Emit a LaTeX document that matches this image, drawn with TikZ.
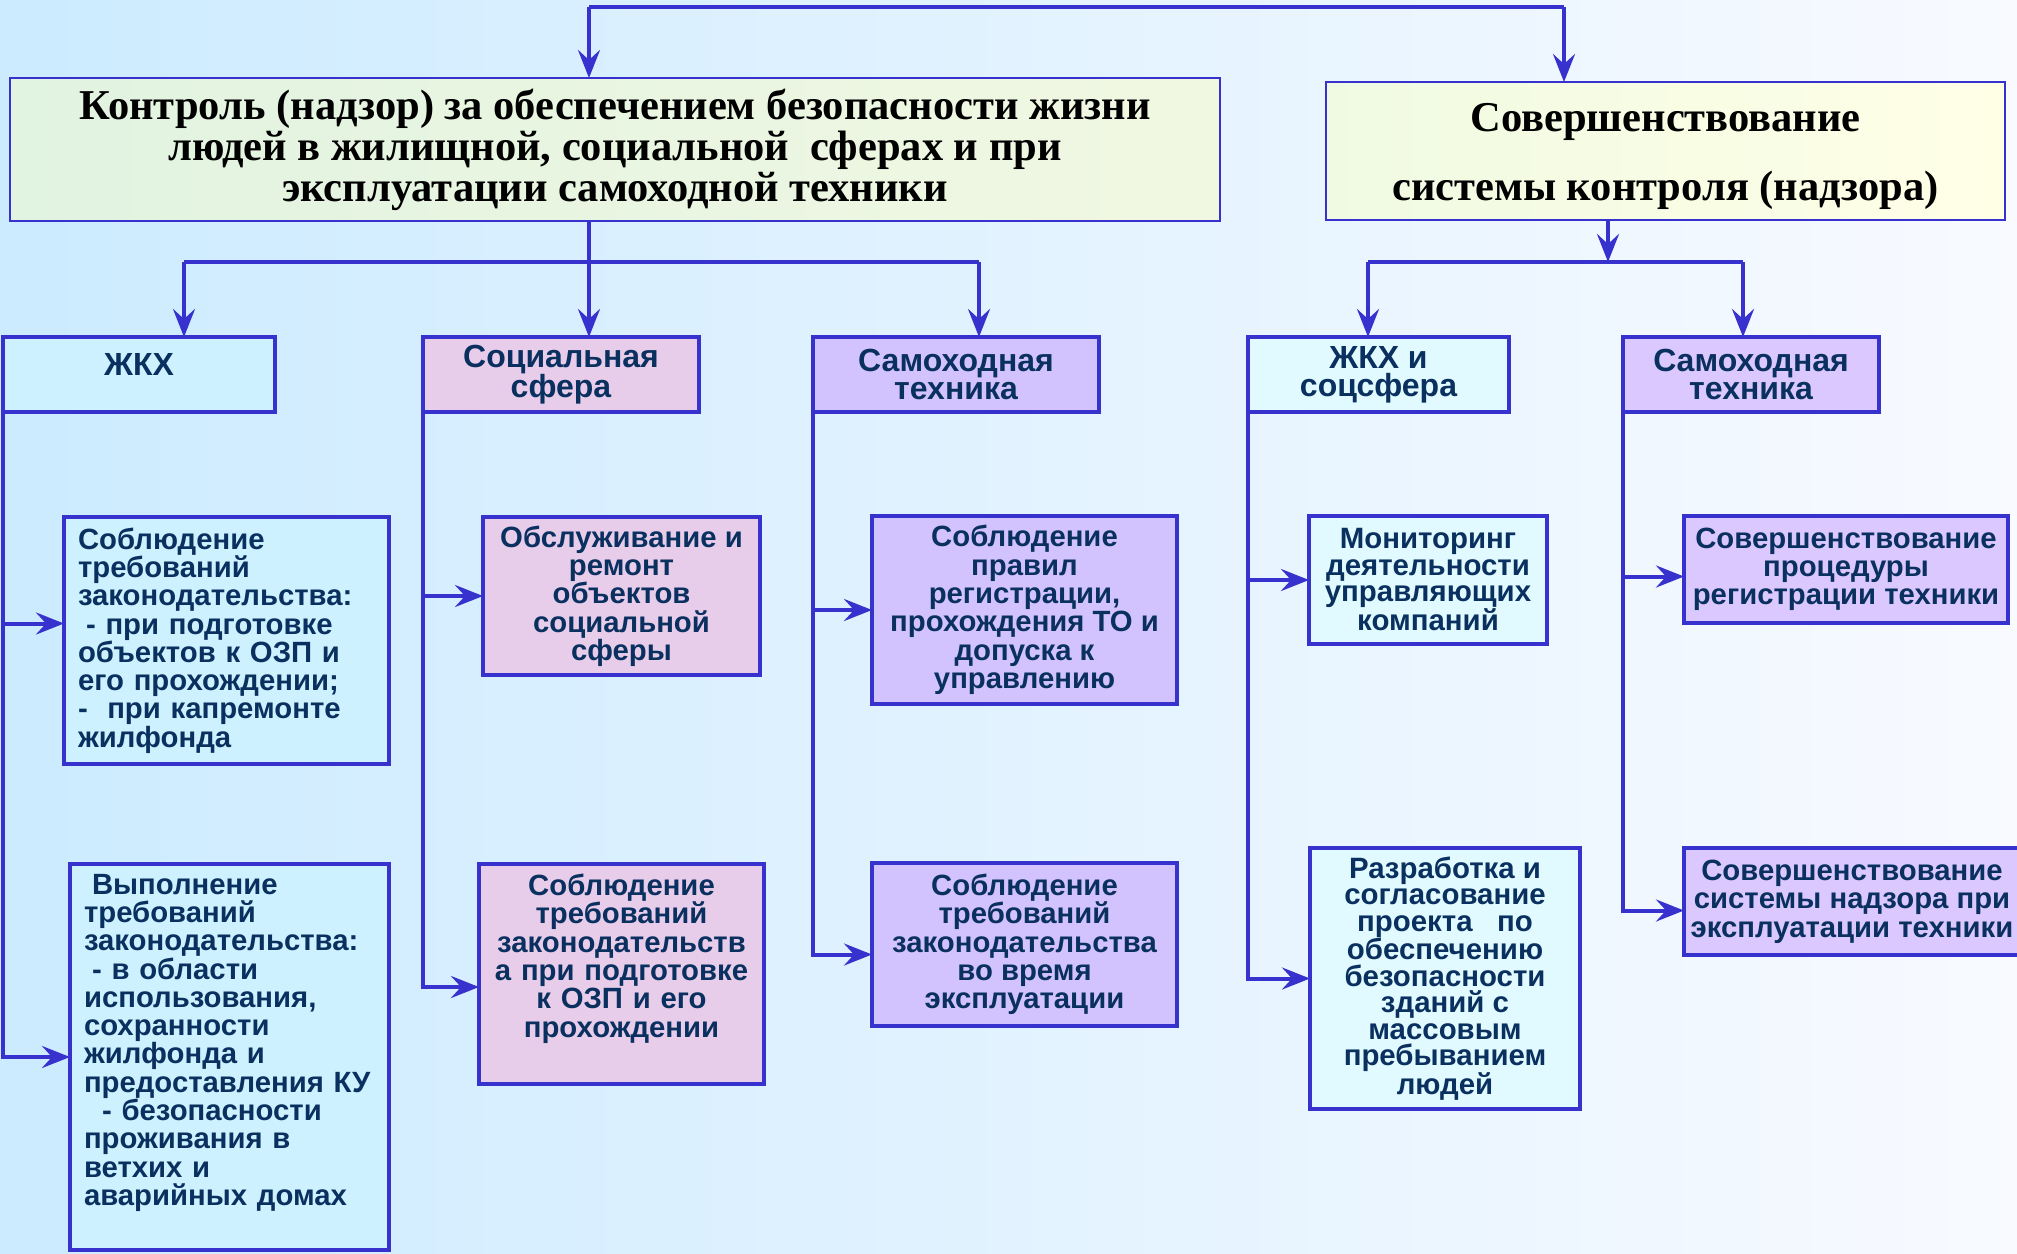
\documentclass[tikz,border=0pt]{standalone}
\usepackage{fontspec}
\newfontfamily\sansfnt{Liberation Sans}
\newfontfamily\seriffnt{Liberation Serif}
\usetikzlibrary{arrows.meta}

\definecolor{linec}{RGB}{55,50,205}
\definecolor{txt}{RGB}{10,48,95}
\definecolor{bgL}{RGB}{204,235,255}
\definecolor{bgR}{RGB}{248,250,255}
\definecolor{cyanA}{RGB}{205,241,255}
\definecolor{cyanB}{RGB}{225,250,255}
\definecolor{pinkA}{RGB}{232,205,235}
\definecolor{violA}{RGB}{210,195,255}
\definecolor{violB}{RGB}{218,200,255}
\definecolor{titleL}{RGB}{225,243,225}
\definecolor{titleR}{RGB}{241,248,226}
\definecolor{impL}{RGB}{240,250,226}
\definecolor{impR}{RGB}{255,255,230}

\begin{document}
\begin{tikzpicture}[x=1pt, y=-1pt,
    link/.style={draw=linec, line width=4pt},
    tip/.style={link, -{Stealth[length=28pt, width=22pt, inset=10pt]}},
    titlebox/.style={draw=linec, line width=2pt, text=black, align=center, inner sep=0pt, outer sep=0pt,
        font=\seriffnt\bfseries\fontsize{42.5}{41}\selectfont},
    box/.style={draw=linec, line width=4pt, text=txt, align=center, inner sep=0pt, outer sep=0pt,
        font=\sansfnt\bfseries\fontsize{29.3}{28.3}\selectfont},
    headbox/.style={box, font=\sansfnt\bfseries\fontsize{32}{28.3}\selectfont},
    lbox/.style={box, align=left, inner xsep=14pt},
    smallbox/.style={box, font=\sansfnt\bfseries\fontsize{29.4}{26.5}\selectfont}]

    % Background
    \useasboundingbox (0,0) rectangle (2017,1253);
    \shade[left color=bgL, right color=bgR] (0,0) rectangle (2017,1253);

    % Top boxes
    \node[titlebox, left color=titleL, right color=titleR, minimum width=1210, minimum height=143] (control) at (615,149.5)
        {Контроль (надзор) за обеспечением безопасности жизни\\людей в жилищной, социальной \ сферах и при\\эксплуатации самоходной техники};
    \node[titlebox, left color=impL, right color=impR, minimum width=679, minimum height=138] (improve) at (1665.5,151)
        {\rule{0pt}{40pt}Совершенствование\\[28pt]системы контроля (надзора)};

    % Headers
    \node[headbox, fill=cyanA, text depth=20pt, minimum width=272, minimum height=75] (gkh) at (139,374.5) {ЖКХ};
    \node[headbox, fill=pinkA, minimum width=276, minimum height=75] (soc) at (561,374.5) {Социальная\\сфера};
    \node[headbox, fill=violA, minimum width=286, minimum height=75] (tech) at (956,374.5) {Самоходная\\техника};
    \node[headbox, fill=cyanB, minimum width=261, minimum height=75] (gkhsoc) at (1378.5,374.5) {ЖКХ и\\соцсфера};
    \node[headbox, fill=violB, minimum width=256, minimum height=75] (techb) at (1751,374.5) {Самоходная\\техника};

    % Lower boxes
    \node[lbox, fill=cyanA, text width=297, minimum height=247] (law1) at (226.5,640.5)
        {Соблюдение\\требований\\законодательства:\\\hspace*{8pt}- при подготовке\\объектов к ОЗП и\\его прохождении;\\-\ \ при капремонте\\жилфонда};
    \node[lbox, fill=cyanA, text width=291, inner ysep=10pt, minimum height=386] (law2) at (229.5,1057)
        {\begin{minipage}[c][366pt][t]{291pt}\raggedright
        \hspace*{8pt}Выполнение\\требований\\законодательства:\\\hspace*{8pt}- в области\\использования,\\сохранности\\жилфонда и\\предоставления КУ\\\hspace*{18pt}- безопасности\\проживания в\\ветхих и\\аварийных домах
        \end{minipage}};
    \node[box, fill=pinkA, minimum width=277, minimum height=158] (serv) at (621.5,596)
        {Обслуживание и\\ремонт\\объектов\\социальной\\сферы};
    \node[box, fill=pinkA, text width=285, inner ysep=10pt, minimum height=220] (soclaw) at (621.5,974)
        {\begin{minipage}[c][200pt][t]{285pt}\centering
        Соблюдение\\требований\\законодательств\\а при подготовке\\к ОЗП и его\\прохождении
        \end{minipage}};
    \node[box, fill=violA, minimum width=305, minimum height=188] (reg) at (1024.5,610)
        {Соблюдение\\правил\\регистрации,\\прохождения ТО и\\допуска к\\управлению};
    \node[box, fill=violA, minimum width=305, minimum height=163] (oper) at (1024.5,944.5)
        {Соблюдение\\требований\\законодательства\\во время\\эксплуатации};
    \node[smallbox, fill=cyanB, minimum width=238, minimum height=128] (monit) at (1428,580)
        {Мониторинг\\деятельности\\управляющих\\компаний};
    \node[smallbox, fill=cyanB, minimum width=270, minimum height=261] (proj) at (1445,978.5)
        {Разработка и\\согласование\\проекта \ \ по\\обеспечению\\безопасности\\зданий с\\массовым\\пребыванием\\людей};
    \node[box, fill=violB, minimum width=324, minimum height=107] (proc) at (1846,569.5)
        {Совершенствование\\процедуры\\регистрации техники};
    \node[box, fill=violB, minimum width=336, minimum height=107] (supv) at (1852,901.5)
        {Совершенствование\\системы надзора при\\эксплуатации техники};

    % Top connectors
    \coordinate (tl) at (589,7);
    \coordinate (tr) at (1564,7);
    \draw[link] (tl) -- (tr);
    \draw[tip] (tl) -- (tl |- control.north);
    \draw[tip] (tr) -- (tr |- improve.north);

    % Left branch
    \coordinate (ml) at (184,262);
    \coordinate (mr) at (979,262);
    \draw[link] (tl |- control.south) -- (tl |- ml);
    \draw[link] (ml) -- (mr);
    \draw[tip] (ml) -- (ml |- gkh.north);
    \draw[tip] (tl |- ml) -- (tl |- soc.north);
    \draw[tip] (mr) -- (mr |- tech.north);

    % Right branch
    \coordinate (rl) at (1368,262);
    \coordinate (rm) at (1608,262);
    \coordinate (rr) at (1743,262);
    \draw[tip] (rm |- improve.south) -- (rm);
    \draw[link] (rl) -- (rr);
    \draw[tip] (rl) -- (rl |- gkhsoc.north);
    \draw[tip] (rr) -- (rr |- techb.north);

    % Stems
    \draw[tip] (gkh.south west) |- ([yshift=17pt]law1.west);
    \draw[tip] (gkh.south west) |- (law2.west);
    \draw[tip] (soc.south west) |- (serv.west);
    \draw[tip] (soc.south west) |- ([yshift=-13pt]soclaw.west);
    \draw[tip] (tech.south west) |- (reg.west);
    \draw[tip] (tech.south west) |- ([yshift=-10pt]oper.west);
    \draw[tip] (gkhsoc.south west) |- (monit.west);
    \draw[tip] (gkhsoc.south west) |- (proj.west);
    \draw[tip] (techb.south west) |- ([yshift=-7pt]proc.west);
    \draw[tip] (techb.south west) |- ([yshift=-9pt]supv.west);

\end{tikzpicture}
\end{document}
